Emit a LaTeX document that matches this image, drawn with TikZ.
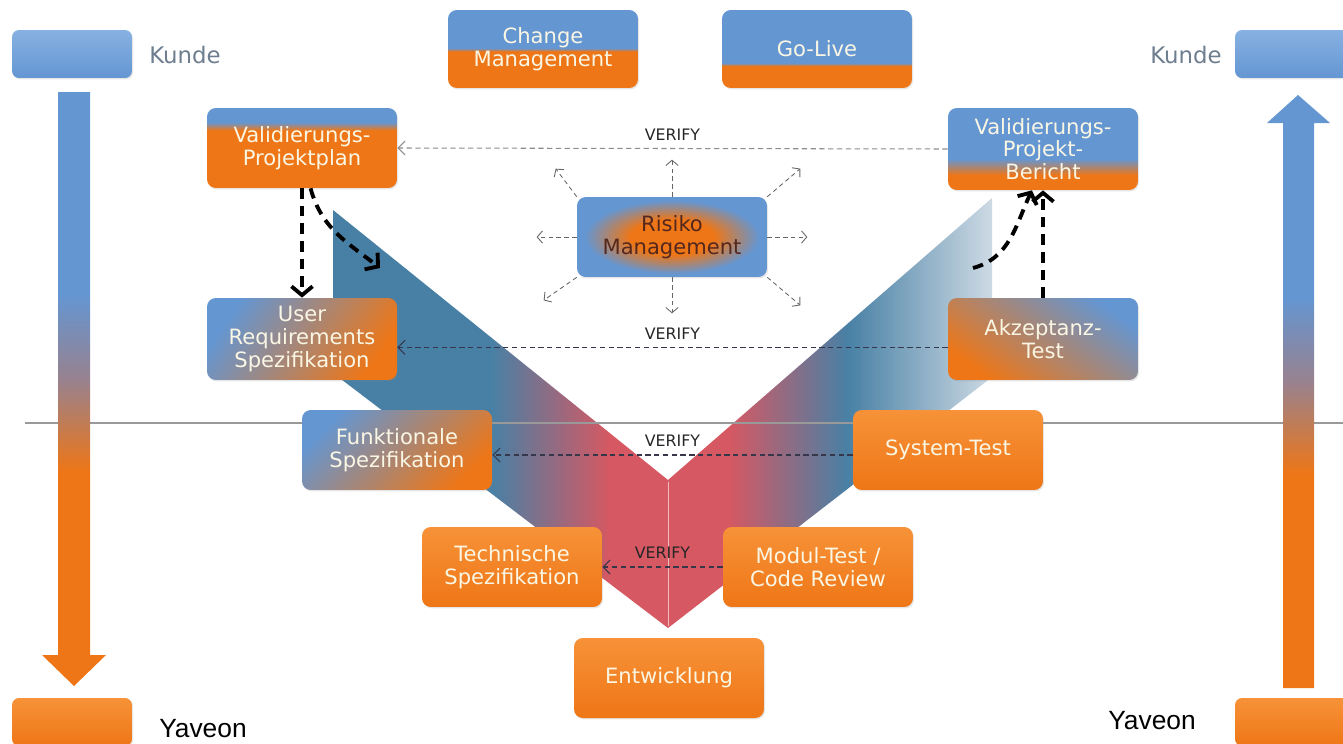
\documentclass[tikz,border=0pt]{standalone}
\usepackage{fontspec}
\setmainfont{DejaVu Sans}
\newfontfamily\yaveonfont{Liberation Sans}
\usetikzlibrary{arrows,arrows.meta,shapes,shadows,calc}

\definecolor{boxblue}{RGB}{100,150,210}
\definecolor{boxbluelight}{RGB}{135,177,226}
\definecolor{boxorange}{RGB}{238,118,22}
\definecolor{boxorangelight}{RGB}{247,146,56}
\definecolor{boxtext}{RGB}{250,246,228}
\definecolor{risktext}{RGB}{85,40,30}
\definecolor{kundetext}{RGB}{110,126,142}
\definecolor{vsteel}{RGB}{72,128,165}
\definecolor{vred}{RGB}{214,88,98}
\definecolor{vpale}{RGB}{205,218,228}
\definecolor{arrowmid}{RGB}{150,130,145}
\definecolor{verifygray}{RGB}{140,140,140}
\definecolor{verifydark}{RGB}{55,55,75}

% shadings of the boxes and arrows
\pgfdeclareverticalshading{cmshade}{100bp}{color(0bp)=(boxorange); color(48.5bp)=(boxorange); color(50.5bp)=(boxblue); color(100bp)=(boxblue)}
\pgfdeclareverticalshading{goshade}{100bp}{color(0bp)=(boxorange); color(39bp)=(boxorange); color(41bp)=(boxblue); color(100bp)=(boxblue)}
\pgfdeclareverticalshading{planshade}{100bp}{color(0bp)=(boxorange); color(61bp)=(boxorange); color(66bp)=(boxblue); color(100bp)=(boxblue)}
\pgfdeclareverticalshading{berichtshade}{100bp}{color(0bp)=(boxorange); color(34bp)=(boxorange); color(44bp)=(boxblue); color(100bp)=(boxblue)}
\pgfdeclareverticalshading{arrowshade}{100bp}{color(0bp)=(boxorange); color(43bp)=(boxorange); color(51bp)=(arrowmid); color(58bp)=(boxblue); color(100bp)=(boxblue)}
\pgfdeclarehorizontalshading{vshade}{100bp}{color(0bp)=(vsteel); color(37bp)=(vsteel); color(46bp)=(vred); color(55bp)=(vred); color(64bp)=(vsteel); color(75bp)=(vpale); color(100bp)=(vpale)}
\pgfdeclareradialshading{riskshade}{\pgfpoint{0bp}{0bp}}{color(0bp)=(boxorange); color(11bp)=(boxorange); color(23bp)=(boxblue); color(25bp)=(boxblue); color(50bp)=(boxblue)}

\newcommand\modelfont{\fontsize{12}{13}\selectfont}

\begin{document}
\begin{tikzpicture}[x=0.02cm,y=-0.02cm,>={Straight Barb[length=4pt,width=8pt]}]
 \tikzstyle{box}=[rounded corners=5pt,minimum width=3.8cm,minimum height=1.6cm,align=center,text=boxtext,font=\modelfont,drop shadow={opacity=0.2,shadow xshift=0.6pt,shadow yshift=-0.8pt}]
 \tikzstyle{orangebox}=[box,top color=boxorangelight,bottom color=boxorange]
 \tikzstyle{sidebox}=[rounded corners=4pt,minimum width=2.4cm,minimum height=0.96cm,drop shadow={opacity=0.2,shadow xshift=0.6pt,shadow yshift=-0.8pt}]
 \tikzstyle{kundelabel}=[text=kundetext,font=\fontsize{13}{15}\selectfont]
 \tikzstyle{yaveonlabel}=[text=black,font=\yaveonfont\fontsize{15}{17}\selectfont]
 \tikzstyle{verify}=[->,line width=0.6pt,dash pattern=on 3pt off 2pt,draw=verifydark]
 \tikzstyle{verifylabel}=[above,yshift=1pt,text=black!85,font=\fontsize{9}{10}\selectfont]
 \tikzstyle{ray}=[-{Straight Barb[length=3pt,width=7pt]},line width=0.5pt,dash pattern=on 2.5pt off 2pt,draw=black!60]
 \tikzstyle{flow}=[-{Straight Barb[length=5pt,width=12pt]},line width=2.2pt,dash pattern=on 6pt off 4pt,black]

 \useasboundingbox (0,0) rectangle (1343,744);
 \clip (0,0) rectangle (1343,744);

 % the V
 \shade[shading=vshade] (333,210) -- (668,480) -- (668,628) -- (333,373) -- cycle
   (992,198) -- (668,480) -- (668,628) -- (992,377) -- cycle;
 \draw[white,opacity=0.6,line width=0.4pt] (668,482) -- (668,626);

 \coordinate (lineL) at (25,423);
 \coordinate (lineR) at (1343,423);
 \draw[black!40,line width=0.7pt] (lineL) -- (lineR);

 % customer / supplier side
 \shade[shading=arrowshade] (58,92) -- (90,92) -- (90,655) -- (106,655) -- (74,686) -- (42,655) -- (58,655) -- cycle;
 \shade[shading=arrowshade] (1283,688) -- (1314,688) -- (1314,123) -- (1330,123) -- (1298,95) -- (1267,123) -- (1283,123) -- cycle;

 \node (kundeL) at (72,54) [sidebox,top color=boxbluelight,bottom color=boxblue] {};
 \node (kundeR) at (1295,54) [sidebox,top color=boxbluelight,bottom color=boxblue] {};
 \node (yaveonL) at (72,722) [sidebox,top color=boxorangelight,bottom color=boxorange] {};
 \node (yaveonR) at (1295,722) [sidebox,top color=boxorangelight,bottom color=boxorange] {};
 \node (kundeLtext) at (185,55) [kundelabel] {Kunde};
 \node (kundeRtext) at (1186,55) [kundelabel] {Kunde};
 \node (yaveonLtext) at (203,729) [yaveonlabel] {Yaveon};
 \node (yaveonRtext) at (1152,721) [yaveonlabel] {Yaveon};

 % boxes
 \node (change) at (543,49) [box,shading=cmshade,minimum height=1.56cm] {Change\\Management};
 \node (golive) at (817,49) [box,shading=goshade,minimum height=1.56cm] {Go-Live};
 \node (plan) at (302,148) [box,shading=planshade] {Validierungs-\\Projektplan};
 \node (bericht) at (1043,149) [box,shading=berichtshade,minimum height=1.64cm] {Validierungs-\\Projekt-\\Bericht};
 \node (risk) at (672,237) [box,shading=riskshade,text=risktext] {Risiko\\Management};
 \node (ureq) at (302,339) [box,top color=boxblue,bottom color=boxorange,shading angle=55,minimum height=1.64cm] {User\\Requirements\\Spezifikation};
 \node (akz) at (1043,339) [box,top color=boxblue,bottom color=boxorange,shading angle=-35,minimum height=1.64cm] {Akzeptanz-\\Test};
 \node (funk) at (397,450) [box,top color=boxblue,bottom color=boxorange,shading angle=45] {Funktionale\\Spezifikation};
 \node (sys) at (948,450) [orangebox] {System-Test};
 \node (tech) at (512,567) [orangebox,minimum width=3.6cm] {Technische\\Spezifikation};
 \node (modul) at (818,567) [orangebox] {Modul-Test /\\Code Review};
 \node (dev) at (669,678) [orangebox] {Entwicklung};

 % verify connectors
 \draw [verify,draw=verifygray] (bericht.west) to node[verifylabel] {VERIFY} (plan.east);
 \draw [verify] (akz.185) to node[verifylabel] {VERIFY} (ureq.-5);
 \draw [verify] (sys.183) to node[verifylabel] {VERIFY} (funk.-3);
 \draw [verify] (modul.west) to node[verifylabel] {VERIFY} (tech.east);

 % risk rays
 \foreach \anc/\dx/\dy [count=\i] in {north/0/-37, south/0/36, west/-40/0, east/40/0,
     north west/-21/-28, north east/33/-28, south west/-33/23, south east/33/28}
 {
  \path (risk.\anc) ++(\dx,\dy) coordinate (ray\i);
  \draw [ray] (risk.\anc) -- (ray\i);
 }

 % process arrows
 \coordinate (bendend) at (380,268);
 \coordinate (bendstart) at (973,268);
 \draw [flow] (plan.south) -- (ureq.north);
 \draw [flow] (plan.-78) to[out=-75,in=142] (bendend);
 \draw [flow] (akz.north) -- (bericht.south);
 \draw [flow] (bendstart) to[out=15,in=-115] (bericht.-105);
\end{tikzpicture}
\end{document}
